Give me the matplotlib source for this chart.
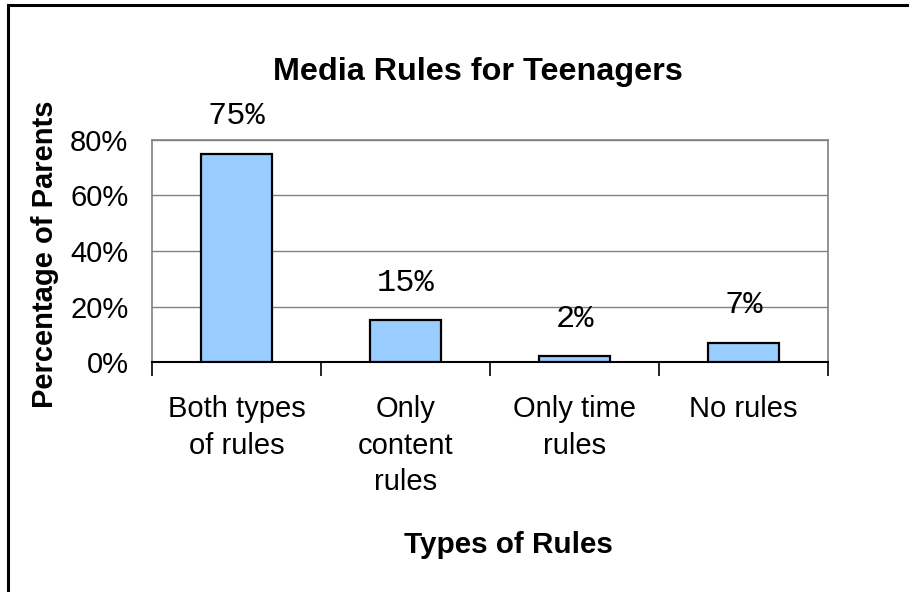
import matplotlib.pyplot as plt
from matplotlib.patches import Rectangle
from matplotlib.ticker import FixedLocator, PercentFormatter

categories = ['Both types\nof rules', 'Only\ncontent\nrules', 'Only time\nrules', 'No rules']
values = [75, 15, 2, 7]
y_ticks = [0, 20, 40, 60, 80]

plt.rcParams['font.family'] = ['Liberation Sans', 'DejaVu Sans']

fig = plt.figure(figsize=(9.09, 5.92), dpi=100)
W, H = 909, 592
ax = fig.add_axes([152 / W, 1 - 362 / H, (828 - 152) / W, (362 - 140) / H])

x = list(range(len(categories)))
ax.bar(x, values, width=0.42, color='#99CCFF', edgecolor='black', linewidth=1.6, zorder=3)

ax.set_xlim(-0.5, len(categories) - 0.5)
ax.set_ylim(0, 80)
ax.set_yticks(y_ticks)
ax.yaxis.set_major_formatter(PercentFormatter(decimals=0))
ax.yaxis.grid(True, color='#808080', linewidth=1.0, zorder=0)
ax.tick_params(axis='y', length=0, pad=17, labelsize=21)

# category boundaries carry the ticks, centres carry the labels
ax.xaxis.set_major_locator(FixedLocator([i - 0.5 for i in range(len(categories) + 1)]))
ax.xaxis.set_minor_locator(FixedLocator(x))
ax.set_xticklabels([], minor=False)
ax.set_xticklabels(categories, minor=True)
ax.tick_params(axis='x', which='major', length=10, width=1.2, color='black')
ax.tick_params(axis='x', which='minor', length=0, pad=24, labelsize=21)
for lab in ax.get_xticklabels(minor=True):
    lab.set_linespacing(1.38)

for side in ['top', 'right', 'left']:
    ax.spines[side].set_color('#808080')
    ax.spines[side].set_linewidth(1.2)
ax.spines['bottom'].set_color('black')
ax.spines['bottom'].set_linewidth(1.5)

for xi, v in zip(x, values):
    ax.annotate('%d%%' % v, (xi, v), xytext=(0, 27), textcoords='offset points',
                ha='center', va='center', fontsize=23, family='Liberation Mono')

fig.text(478 / W, 1 - 72 / H, 'Media Rules for Teenagers', ha='center', va='center',
         fontsize=23.3, fontweight='bold')
fig.text(45 / W, 1 - 254 / H, 'Percentage of Parents', ha='center', va='center',
         rotation=90, fontsize=21, fontweight='bold')
fig.text(508 / W, 1 - 545 / H, 'Types of Rules', ha='center', va='center',
         fontsize=21.3, fontweight='bold')

# chart frame
fig.add_artist(Rectangle((8 / W, -0.1), 1.2, 1.1 - 5 / H, transform=fig.transFigure,
                         fill=False, edgecolor='black', linewidth=2.2))

fig.savefig('out.png', dpi=100)
